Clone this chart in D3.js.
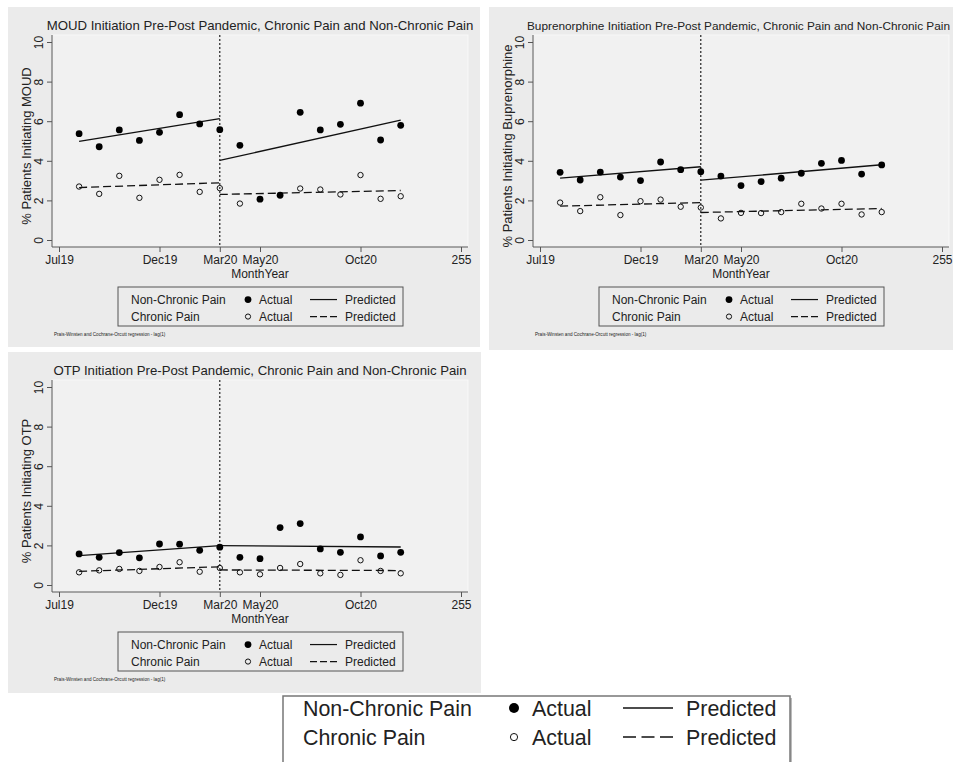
<!DOCTYPE html>
<html lang="en">

<head>
  <meta charset="UTF-8" />
  <title>d3</title>
  <script src="https://cdn.jsdelivr.net/npm/d3@7"></script>
  <style>
    body {
      margin: 0;
      background: #fff;
    }

    text {
      font-family: "Liberation Sans", Arial, sans-serif;
      fill: #222;
    }
  </style>
</head>

<body>
  <div id="container"></div>
  <script>
    // months with data, Jul19 is month 0 on the axis
    const months = ["Aug19", "Sep19", "Oct19", "Nov19", "Dec19", "Jan20", "Feb20", "Mar20", "Apr20",
      "May20", "Jun20", "Jul20", "Aug20", "Sep20", "Oct20", "Nov20", "Dec20"];
    const xTickVals = [0, 5, 8, 10, 15, 20];
    const xTickLabels = ["Jul19", "Dec19", "Mar20", "May20", "Oct20", "255"];
    const yTicks = [0, 2, 4, 6, 8, 10];
    const interruption = 8; // Mar20

    // predicted segments: pre (Aug19 -> Mar20), post (Mar20 -> Dec20)
    const segMonths = [[1, 8], [8, 17]];

    const moudNonChronic = [5.37, 4.71, 5.56, 5.03, 5.44, 6.33, 5.86, 5.57, 4.78, 2.06, 2.26, 6.45, 5.56, 5.84, 6.91, 5.05, 5.79];
    const moudChronic = [2.70, 2.33, 3.24, 2.13, 3.04, 3.29, 2.43, 2.62, 1.84, null, null, 2.60, 2.55, 2.30, 3.28, 2.08, 2.21];
    const moudNonChronicPred = [[4.98, 6.13], [4.02, 6.06]];
    const moudChronicPred = [[2.65, 2.89], [2.30, 2.50]];

    const bupNonChronic = [3.42, 3.03, 3.43, 3.18, 3.00, 3.94, 3.55, 3.45, 3.23, 2.75, 2.95, 3.12, 3.37, 3.87, 4.02, 3.33, 3.79];
    const bupChronic = [1.89, 1.46, 2.16, 1.26, 1.96, 2.04, 1.68, 1.64, 1.09, 1.37, 1.36, 1.41, 1.83, 1.59, 1.83, 1.29, 1.41];
    const bupNonChronicPred = [[3.13, 3.70], [3.02, 3.80]];
    const bupChronicPred = [[1.71, 1.89], [1.39, 1.59]];

    const otpNonChronic = [1.57, 1.40, 1.64, 1.37, 2.07, 2.06, 1.75, 1.91, 1.40, 1.33, 2.90, 3.10, 1.82, 1.65, 2.43, 1.47, 1.65];
    const otpChronic = [0.64, 0.74, 0.81, 0.71, 0.91, 1.15, 0.67, 0.86, 0.64, 0.54, 0.86, 1.06, 0.59, 0.51, 1.25, 0.71, 0.59];
    const otpNonChronicPred = [[1.48, 1.99], [1.99, 1.92]];
    const otpChronicPred = [[0.69, 0.92], [0.76, 0.73]];

    const W = 953, H = 762;
    const svg = d3.select('#container').append('svg')
      .attr('width', W).attr('height', H)
      .style('display', 'block');

    svg.append('rect').attr('width', W).attr('height', H).attr('fill', '#fff');

    function panel(ox, oy, pw, ph, title, titleX, titleFs, yTitle, nc, c, ncPred, cPred) {
      const g = svg.append('g').attr('transform', `translate(${ox}, ${oy})`);
      g.append('rect').attr('width', pw).attr('height', ph).attr('fill', '#ebebeb');

      const plotL = 44, plotR = 460, plotT = 28, plotB = 240;
      g.append('rect')
        .attr('x', plotL).attr('y', plotT)
        .attr('width', plotR - plotL).attr('height', plotB - plotT)
        .attr('fill', '#f1f1f1').attr('stroke', '#f8f8f8');

      const x = d3.scaleLinear().domain([0, 20]).range([51, 453]);
      const y = d3.scaleLinear().domain([0, 10]).range([233, 35]);

      // axes
      const xAxis = g.append('g')
        .attr('transform', `translate(0, ${plotB})`)
        .call(d3.axisBottom(x).tickValues(xTickVals)
          .tickFormat((d, i) => xTickLabels[i]).tickSize(5).tickPadding(3).tickSizeOuter(0));
      xAxis.select('.domain').attr('d', `M${plotL},0H${plotR}`).attr('stroke', '#555');
      xAxis.selectAll('.tick line').attr('stroke', '#555');
      xAxis.selectAll('.tick text').attr('font-size', 12).attr('fill', '#222');

      const yAxis = g.append('g')
        .attr('transform', `translate(${plotL}, 0)`)
        .call(d3.axisLeft(y).tickValues(yTicks).tickSize(5).tickSizeOuter(0));
      yAxis.select('.domain').attr('d', `M0,${plotT}V${plotB}`).attr('stroke', '#555');
      yAxis.selectAll('.tick line').attr('stroke', '#555');
      yAxis.selectAll('.tick text')
        .attr('font-size', 12).attr('fill', '#222')
        .attr('x', null).attr('dy', null)
        .attr('text-anchor', 'middle')
        .attr('transform', 'translate(-9, 0) rotate(-90)');

      const t = g.append('text').attr('y', 23).attr('font-size', titleFs).text(title);
      if (titleX == null) t.attr('x', (plotL + plotR) / 2).attr('text-anchor', 'middle');
      else t.attr('x', titleX);
      g.append('text')
        .attr('transform', `translate(23, ${(plotT + plotB) / 2 + 5}) rotate(-90)`)
        .attr('text-anchor', 'middle').attr('font-size', 13)
        .text(yTitle);
      g.append('text')
        .attr('x', (plotL + plotR) / 2).attr('y', 271)
        .attr('text-anchor', 'middle').attr('font-size', 12)
        .text('MonthYear');

      // interruption line
      g.append('line')
        .attr('x1', x(interruption)).attr('x2', x(interruption))
        .attr('y1', plotT).attr('y2', plotB)
        .attr('stroke', '#111').attr('stroke-width', 1.1)
        .attr('stroke-dasharray', '2,2');

      // predicted
      const line = d3.line().x(d => x(d[0])).y(d => y(d[1]));
      segMonths.forEach((s, i) => {
        g.append('path')
          .attr('d', line([[s[0], ncPred[i][0]], [s[1], ncPred[i][1]]]))
          .attr('fill', 'none').attr('stroke', '#111').attr('stroke-width', 1.3);
        g.append('path')
          .attr('d', line([[s[0], cPred[i][0]], [s[1], cPred[i][1]]]))
          .attr('fill', 'none').attr('stroke', '#111').attr('stroke-width', 1.3)
          .attr('stroke-dasharray', '8,4');
      });

      // actual
      g.selectAll('.nc')
        .data(nc.map((v, i) => [i + 1, v]).filter(d => d[1] != null))
        .enter().append('circle')
        .attr('cx', d => x(d[0])).attr('cy', d => y(d[1]))
        .attr('r', 3.4).attr('fill', '#000');
      g.selectAll('.c')
        .data(c.map((v, i) => [i + 1, v]).filter(d => d[1] != null))
        .enter().append('circle')
        .attr('cx', d => x(d[0])).attr('cy', d => y(d[1]))
        .attr('r', 2.7).attr('fill', 'none').attr('stroke', '#111').attr('stroke-width', 1);

      // legend
      const lg = g.append('g').attr('transform', 'translate(110, 280)');
      lg.append('rect').attr('width', 285).attr('height', 39)
        .attr('fill', '#ebebeb').attr('stroke', '#555').attr('stroke-width', 1);
      legendRows(lg, { label: 13, row1: 17, row2: 34, marker: 130, text: 141, l1: 192, l2: 219, pred: 227, fs: 12, r1: 3.4, r2: 2.6, dash: '7,3' });

      g.append('text')
        .attr('x', 46).attr('y', 329)
        .attr('font-size', 4.6)
        .text('Prais-Winsten and Cochrane-Orcutt regression - lag(1)');
    }

    function legendRows(lg, o) {
      const rows = [
        { name: 'Non-Chronic Pain', y: o.row1, filled: true },
        { name: 'Chronic Pain', y: o.row2, filled: false }
      ];
      rows.forEach(r => {
        lg.append('text').attr('x', o.label).attr('y', r.y).attr('font-size', o.fs).text(r.name);
        lg.append('circle')
          .attr('cx', o.marker).attr('cy', r.y - o.fs * 0.37)
          .attr('r', r.filled ? o.r1 : o.r2)
          .attr('fill', r.filled ? '#000' : 'none')
          .attr('stroke', r.filled ? 'none' : '#111').attr('stroke-width', 1);
        lg.append('text').attr('x', o.text).attr('y', r.y).attr('font-size', o.fs).text('Actual');
        lg.append('line')
          .attr('x1', o.l1).attr('x2', o.l2)
          .attr('y1', r.y - o.fs * 0.37).attr('y2', r.y - o.fs * 0.37)
          .attr('stroke', '#111').attr('stroke-width', o.sw || 1.2)
          .attr('stroke-dasharray', r.filled ? null : o.dash);
        lg.append('text').attr('x', o.pred).attr('y', r.y).attr('font-size', o.fs).text('Predicted');
      });
    }

    panel(8, 7, 472, 340,
      'MOUD Initiation Pre-Post Pandemic, Chronic Pain and Non-Chronic Pain', null, 13.2,
      '% Patients Initiating MOUD', moudNonChronic, moudChronic, moudNonChronicPred, moudChronicPred);
    panel(489, 7, 480, 343,
      'Buprenorphine Initiation Pre-Post Pandemic, Chronic Pain and Non-Chronic Pain', 38, 11.8,
      '% Patients Initiating Buprenorphine', bupNonChronic, bupChronic, bupNonChronicPred, bupChronicPred);
    panel(8, 352, 473, 341,
      'OTP Initiation Pre-Post Pandemic, Chronic Pain and Non-Chronic Pain', null, 13.2,
      '% Patients Initiating OTP', otpNonChronic, otpChronic, otpNonChronicPred, otpChronicPred);

    // big legend at the bottom
    const big = svg.append('g').attr('transform', 'translate(283, 696)');
    big.append('rect').attr('x', 2).attr('y', 2).attr('width', 507).attr('height', 80).attr('fill', '#bbb');
    big.append('rect').attr('width', 507).attr('height', 80)
      .attr('fill', '#fff').attr('stroke', '#777').attr('stroke-width', 1.5);
    legendRows(big, { label: 20, row1: 20, row2: 49, marker: 231, text: 249, l1: 340, l2: 390, pred: 403, fs: 21.4, r1: 5, r2: 3.6, dash: '13,5.5', sw: 1.5 });
  </script>
</body>

</html>
